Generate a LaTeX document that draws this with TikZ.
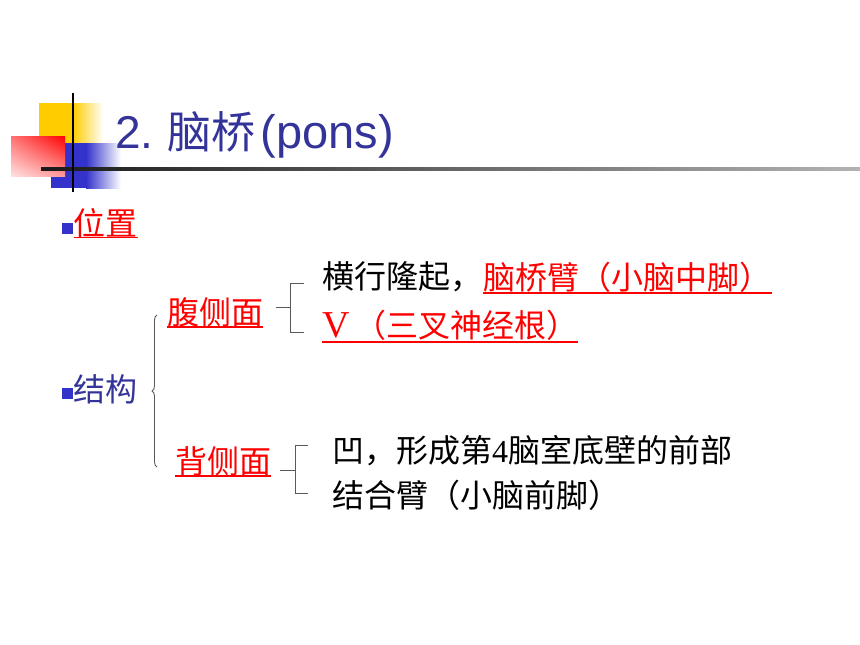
\documentclass[tikz,border=0pt]{standalone}
\usepackage{fontspec}
\setmainfont{Noto Sans CJK SC}
\newfontfamily\latfont{Liberation Serif}
\newfontfamily\titlelat{Liberation Sans}
\usetikzlibrary{positioning,decorations.pathreplacing,shadings}
\definecolor{titleblue}{RGB}{51,51,153}
\definecolor{gold}{RGB}{255,204,0}
\definecolor{boxblue}{RGB}{51,51,204}

\begin{document}
\begin{tikzpicture}[x=1pt,y=-1pt,
  txt/.style={inner sep=0pt,anchor=west,font=\fontsize{32}{38}\selectfont},
  redtxt/.style={txt,text=red},
  bullet/.style={fill=boxblue,minimum size=11pt,inner sep=0pt},
  uline/.style={red,line width=1.3pt},
  brk/.style={draw=black!65,line width=0.9pt}]
    \useasboundingbox (0,0) rectangle (860,645);

    % corner squares and rules
    \fill[gold] (39,103) rectangle (73,143);
    \shade[left color=gold,right color=white] (73,103) rectangle (103,143);
    \fill[boxblue] (51,143) rectangle (86,188);
    \shade[left color=boxblue,right color=white] (86,143) rectangle (121,188);
    \shade[upper right=red,upper left=red!55,lower right=red!40,lower left=red!12] (11,136) rectangle (65,176);
    \shade[left color=black!90,right color=black!30] (41,167.5) rectangle (860,170.5);
    \draw[line width=2pt] (73,93) -- (73,192);

    \node[anchor=base west,inner sep=0pt,text=titleblue,font=\fontsize{44}{50}\selectfont] (title) at (115,148)
      {{\titlelat\fontsize{46}{50}\selectfont 2.}\hspace{0.32em}脑桥\hspace{0.12em}{\titlelat\fontsize{47}{50}\selectfont (pons)}};

    \node[bullet] (b1) at (67,228.5) {};
    \node[redtxt] (pos) [right=1pt of b1,yshift=5pt] {位置};
    \node[bullet] (b2) at (67,393.5) {};
    \node[txt,text=titleblue] (struct) [right=1pt of b2,yshift=4pt] {结构};

    \node[redtxt] (ventral) at (167,312) {腹侧面};
    \node[redtxt] (dorsal) at (175,461) {背侧面};

    \node[txt] (ridge) at (322,277) {横行隆起，};
    \node[redtxt] (midped) [right=1pt of ridge] {脑桥臂（小脑中脚）\hspace{0.8em}};
    \node[redtxt] (trig) at (322,325) {\makebox[1em][l]{\latfont\fontsize{38}{40}\selectfont V}（三叉神经根）\hspace{0.45em}};

    \node[txt] (floor) at (332,451) {凹，形成第{\latfont 4}脑室底壁的前部};
    \node[txt] (supped) at (332,495) {结合臂（小脑前脚）};

    % underlines
    \draw[uline] ([yshift=-14pt]pos.west) -- ([yshift=-14pt]pos.east);
    \draw[uline] ([yshift=-15pt]ventral.west) -- ([yshift=-15pt]ventral.east);
    \draw[uline] ([yshift=-15pt]dorsal.west) -- ([yshift=-15pt]dorsal.east);
    \draw[uline] ([yshift=-16pt]midped.west) -- ([yshift=-16pt]midped.east);
    \draw[uline] ([yshift=-17pt]trig.west) -- ([yshift=-17pt]trig.east);

    % brace and brackets
    \draw[black!65,line width=0.9pt,decorate,decoration={brace,amplitude=5pt}] (157,467) -- (157,315);

    \coordinate (v1) at (290,307);
    \coordinate (v2) at (290,283);
    \coordinate (v3) at (290,332);
    \draw[brk] (v1) -- ++(-14,0);
    \draw[brk] ([xshift=-18pt,yshift=-6pt]ridge.west) -| (v2) -- (v3) -- ++(14,0);

    \coordinate (d1) at (295,470);
    \coordinate (d2) at (295,445);
    \coordinate (d3) at (295,493);
    \draw[brk] (d1) -- ++(-15,0);
    \draw[brk] (d2) -- ++(13,0);
    \draw[brk] (d2) -- (d3) -- ++(13,0);
\end{tikzpicture}
\end{document}
